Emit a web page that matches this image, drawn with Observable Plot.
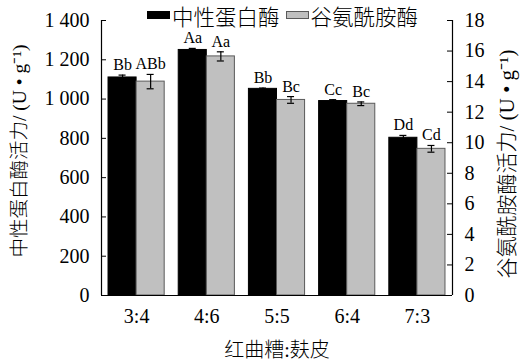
<!DOCTYPE html>
<html><head><meta charset="utf-8">
<script src="https://cdn.jsdelivr.net/npm/d3@7"></script>
<script src="https://cdn.jsdelivr.net/npm/@observablehq/plot@0.6"></script>
<style>
body{margin:0;background:#fff;}
#wrap{position:relative;width:523px;height:364px;overflow:hidden;}
#legend{position:absolute;top:1px;left:147px;height:30px;display:flex;align-items:center;font-family:'Noto Sans CJK SC',sans-serif;font-weight:300;font-size:21.5px;color:#000;white-space:nowrap;}
.sw{display:inline-block;width:23px;height:8px;box-sizing:border-box;margin-top:-3px;}
.lab{display:inline-block;line-height:30px;}
</style></head><body><div id="wrap"><div id="legend"></div></div>
<script>
const categories = ["3:4", "4:6", "5:5", "6:4", "7:3"];
const seriesNames = ["中性蛋白酶", "谷氨酰胺酶"];
const proteaseValues = [1110, 1250, 1052, 990, 803];
const proteaseErrors = [12, 8, 4, 7, 12];
const proteaseLabels = ["Bb", "Aa", "Bb", "Cc", "Dd"];
const glutaminaseValues = [14.0, 15.65, 12.8, 12.55, 9.6];
const glutaminaseErrors = [0.47, 0.3, 0.22, 0.12, 0.22];
const glutaminaseLabels = ["ABb", "Aa", "Bc", "Bc", "Cd"];
const leftTicks = [0, 200, 400, 600, 800, 1000, 1200, 1400];
const rightTicks = [0, 2, 4, 6, 8, 10, 12, 14, 16, 18];
const xTitle = "红曲糟:麸皮";
const leftTitle = "中性蛋白酶活力/ (U • g⁻¹)";
const rightTitle = "谷氨酰胺酶活力/ (U • g⁻¹)";

const k = 1400 / 18; // right-axis units -> left-axis units
const rows = categories.flatMap((c, i) => [
  {series: 0, x1: i + 0.1, x2: i + 0.5, v: proteaseValues[i], e: proteaseErrors[i], label: proteaseLabels[i]},
  {series: 1, x1: i + 0.5, x2: i + 0.9, v: glutaminaseValues[i] * k, e: glutaminaseErrors[i] * k, label: glutaminaseLabels[i]}
]);
rows.forEach(d => d.cx = (d.x1 + d.x2) / 2);
const caps = rows.flatMap(d => [{cx: d.cx, y: d.v - d.e}, {cx: d.cx, y: d.v + d.e}]);
const fmtLeft = d => d >= 1000 ? `${Math.floor(d / 1000)} ${String(d % 1000).padStart(3, "0")}` : String(d);
const serif = "'Liberation Serif','Times New Roman','Noto Sans CJK SC',serif";
const tk = 5 * 5 / 351;

const chart = Plot.plot({
  width: 523, height: 364,
  marginLeft: 101, marginRight: 71, marginTop: 20, marginBottom: 69,
  style: {fontFamily: serif, fontSize: "20px", background: "transparent", color: "#000"},
  x: {domain: [0, 5]},
  y: {domain: [0, 1400]},
  marks: [
    Plot.rectY(rows.filter(d => d.series === 0), {x1: "x1", x2: "x2", y1: 0, y2: "v", fill: "#000", stroke: "#000", strokeWidth: 1}),
    Plot.rectY(rows.filter(d => d.series === 1), {x1: "x1", x2: "x2", y1: 0, y2: "v", fill: "#c0c0c0", stroke: "#5a5a5a", strokeWidth: 1}),
    Plot.ruleX(rows, {x: "cx", y1: d => d.v - d.e, y2: d => d.v + d.e, stroke: "#000", strokeWidth: 1.2}),
    Plot.ruleY(caps, {y: "y", x1: d => d.cx - 0.05, x2: d => d.cx + 0.05, stroke: "#000", strokeWidth: 1.2}),
    Plot.text(rows, {x: "cx", y: d => d.v + d.e, text: "label", dy: -5, lineAnchor: "bottom", fontSize: 16}),
    Plot.ruleX([0, 5], {y1: 0, y2: 1400, stroke: "#000", strokeWidth: 1.2}),
    Plot.ruleY([0], {x1: 0, x2: 5, stroke: "#000", strokeWidth: 1.2}),
    Plot.ruleY(leftTicks, {y: d => d, x1: 0, x2: tk, stroke: "#000"}),
    Plot.ruleY(rightTicks, {y: d => d * k, x1: 5 - tk, x2: 5, stroke: "#000"}),
    Plot.axisY({ticks: leftTicks, tickFormat: fmtLeft, tickSize: 0, tickPadding: 12, label: null, fontSize: 20}),
    Plot.axisY({anchor: "right", ticks: rightTicks.map(v => v * k), tickFormat: d => String(Math.round(d / k)), tickSize: 0, tickPadding: 12, label: null, fontSize: 20}),
    Plot.axisX({ticks: categories.map((c, i) => i + 0.5), tickFormat: d => categories[Math.floor(d)], tickSize: 0, tickPadding: 13, label: null, fontSize: 20}),
    Plot.text([xTitle], {frameAnchor: "bottom", dy: 55, lineAnchor: "middle", fontSize: 20, fontWeight: 300}),
    Plot.text([leftTitle], {frameAnchor: "bottom-left", dx: -82, dy: -38, rotate: -90, textAnchor: "start", lineAnchor: "middle", fontSize: 19.5, fontWeight: 300}),
    Plot.text([rightTitle], {frameAnchor: "bottom-right", dx: 55, dy: -17, rotate: -90, textAnchor: "start", lineAnchor: "middle", fontSize: 21, fontWeight: 300})
  ]
});
document.getElementById("wrap").appendChild(chart);

const legend = document.getElementById("legend");
const colors = [["#000", "#000"], ["#c0c0c0", "#5a5a5a"]];
seriesNames.forEach((name, i) => {
  const sw = document.createElement("span");
  sw.className = "sw";
  sw.style.background = colors[i][0];
  sw.style.border = `1px solid ${colors[i][1]}`;
  if (i > 0) sw.style.marginLeft = "6px";
  const t = document.createElement("span");
  t.className = "lab";
  t.style.marginLeft = "2px";
  t.textContent = name;
  legend.appendChild(sw);
  legend.appendChild(t);
});
</script>
</body></html>
